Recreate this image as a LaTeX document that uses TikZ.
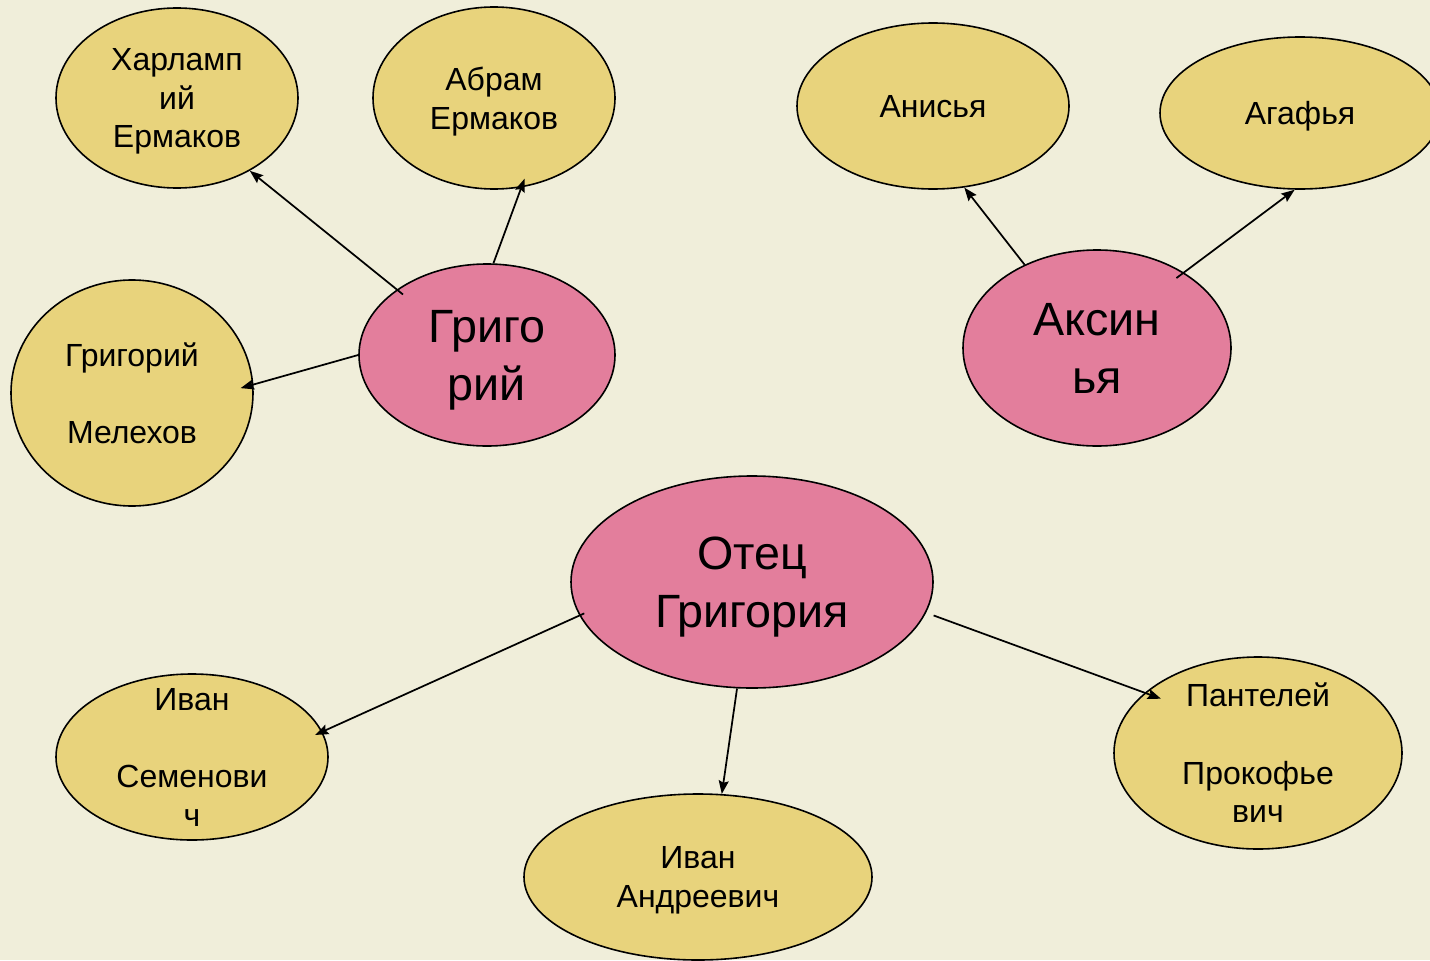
\documentclass[tikz,border=0pt]{standalone}
\usepackage{fontspec}
\setmainfont{Liberation Sans}
\usetikzlibrary{arrows.meta,shapes.geometric}
\definecolor{bgc}{RGB}{240,238,218}
\definecolor{yel}{RGB}{232,211,124}
\definecolor{pnk}{RGB}{227,126,156}
\tikzset{
  base/.style={ellipse,draw=black,line width=1.2pt,inner sep=-60pt,align=center,text=black,text depth=0pt},
  small/.style={base,fill=yel,font=\fontsize{24}{29}\selectfont},
  big/.style={base,fill=pnk,font=\fontsize{35}{43.5}\selectfont},
  arr/.style={draw=black,line width=1.3pt,-{Stealth[length=10pt,width=7.5pt,inset=1.5pt]}}
}
\begin{document}
\begin{tikzpicture}[x=0.75pt,y=-0.75pt]
\useasboundingbox (0,0) rectangle (1430,960);
\clip (0,0) rectangle (1430,960);
\fill[bgc] (0,0) rectangle (1430,960);
% yellow nodes
\node[small,minimum width=181.5pt,minimum height=135pt] (harl) at (177,98) {Харламп\\ий\\Ермаков};
\node[small,minimum width=181.5pt,minimum height=136.5pt] (abr) at (494,98) {Абрам\\Ермаков};
\node[small,minimum width=181.5pt,minimum height=169.5pt] (mel) at (132,393) {Григорий\\\mbox{}\\Мелехов};
\node[small,minimum width=204pt,minimum height=124.5pt] (anis) at (933,106) {Анисья};
\node[small,minimum width=210pt,minimum height=114pt] (agaf) at (1300,113) {Агафья};
\node[small,minimum width=204pt,minimum height=124.5pt] (ivs) at (192,757) {Иван\\\mbox{}\\Семенови\\ч};
\node[small,minimum width=261pt,minimum height=124.5pt] (iva) at (698,877) {Иван\\Андреевич};
\node[small,minimum width=216pt,minimum height=144pt] (pant) at (1258,753) {Пантелей\\\mbox{}\\Прокофье\\вич};
% pink nodes
\node[big,minimum width=192pt,minimum height=136.5pt] (gr) at (487,355) {Григо\\рий};
\node[big,minimum width=201pt,minimum height=147pt] (aks) at (1097,348) {Аксин\\ья};
\node[big,minimum width=271.5pt,minimum height=159pt] (ot) at (752,582) {Отец\\Григория};
% connectors
\draw[arr,shorten <=-6pt] (gr.144) -- (harl.-45);
\draw[arr,shorten >=-7pt] (gr.86) -- (abr.-73);
\draw[arr,shorten >=-10pt] (gr.west) -- (mel.4);
\draw[arr] (aks.131) -- (anis.-69);
\draw[arr,shorten <=-7pt] (aks.41) -- (agaf.-94);
\draw[arr,shorten <=-4pt,shorten >=-6pt] (ot.191) -- (ivs.11);
\draw[arr] (ot.-98) -- (iva.74);
\draw[arr,shorten <=6pt,shorten >=-13pt] (ot.-10) -- (pant.152);
\end{tikzpicture}
\end{document}
